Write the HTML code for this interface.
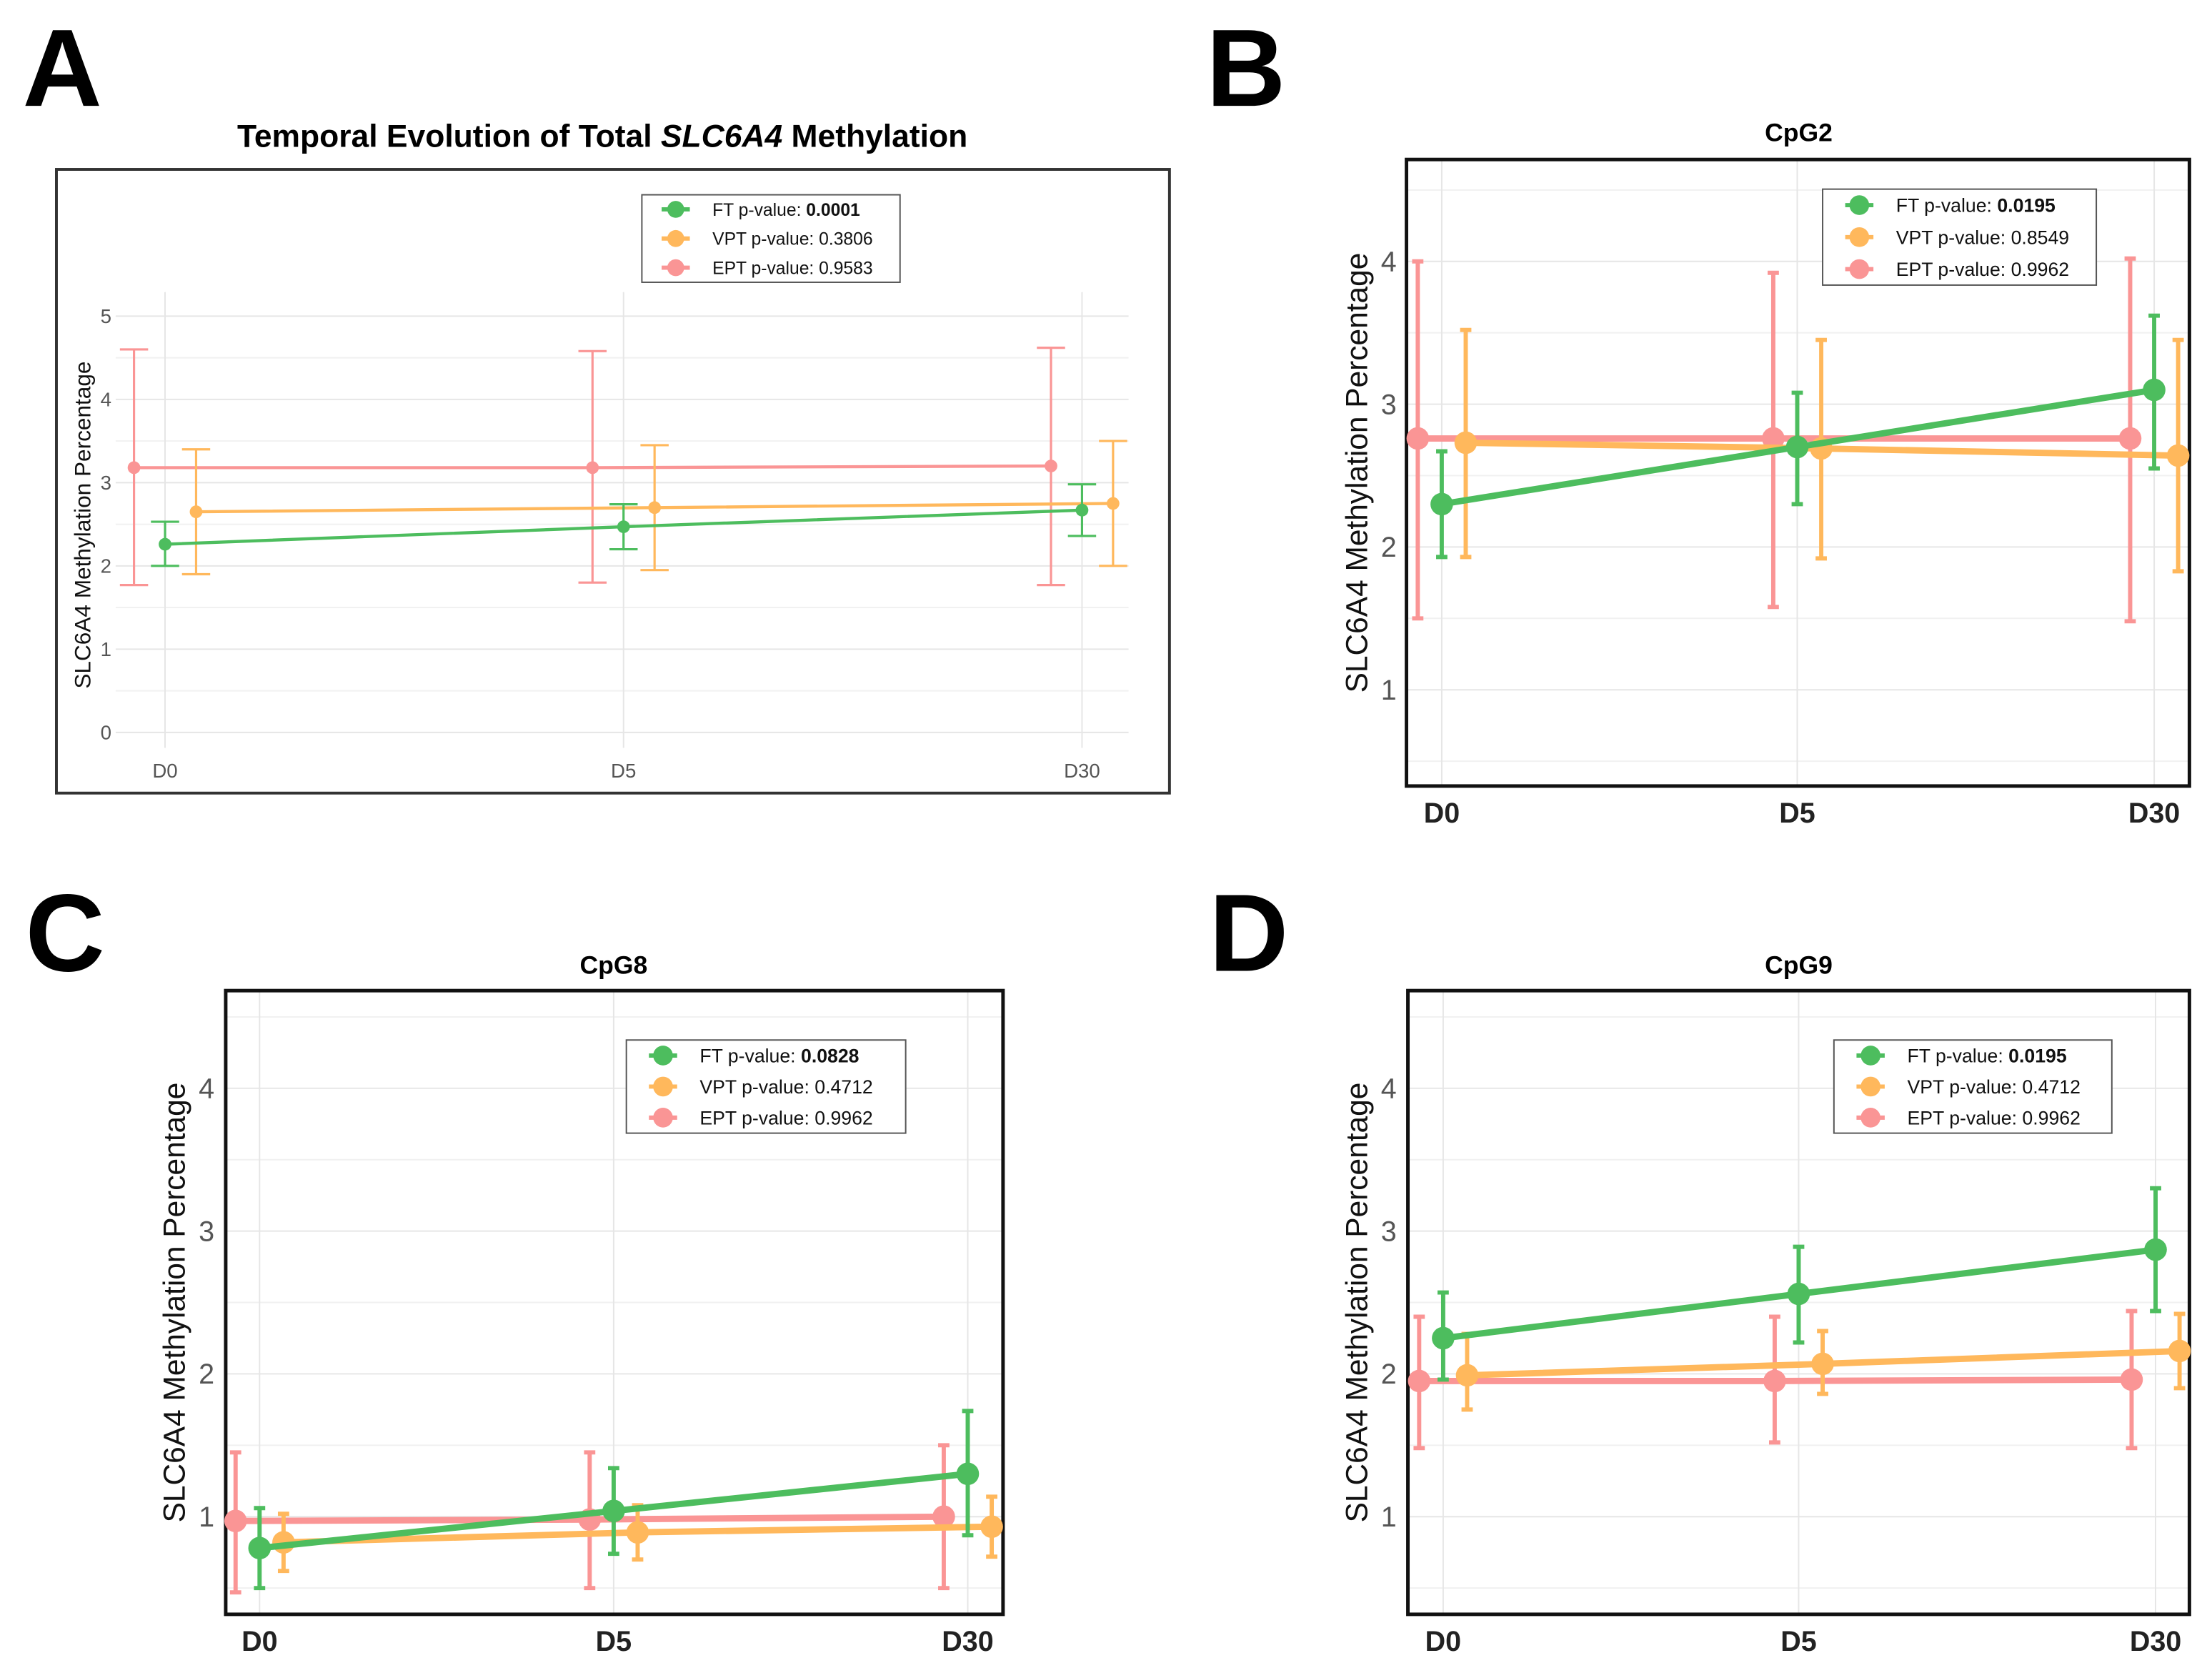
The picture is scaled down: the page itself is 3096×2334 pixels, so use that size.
<!DOCTYPE html>
<html><head><meta charset="utf-8"><style>
html,body{margin:0;padding:0;background:#fff;}
svg{display:block;font-family:"Liberation Sans",Arial,sans-serif;}
</style></head><body>
<svg id="fig" width="3096" height="2334" viewBox="0 0 1568 1182" xmlns="http://www.w3.org/2000/svg">
<rect width="1568" height="1182" fill="#fff"/>
<text x="16" y="75" font-size="78" font-weight="bold">A</text>
<text x="855" y="75" font-size="78" font-weight="bold">B</text>
<text x="18" y="688" font-size="78" font-weight="bold">C</text>
<text x="857" y="688" font-size="78" font-weight="bold">D</text>
</svg>
<script>
const categories = ["D0","D5","D30"];
const seriesNames = ["FT","VPT","EPT"];
// Panel A (total)
const aFT = [2.26,2.47,2.67], aFTlo=[2.0,2.2,2.36], aFThi=[2.53,2.74,2.98];
const aVPT = [2.65,2.70,2.75], aVPTlo=[1.9,1.95,2.0], aVPThi=[3.4,3.45,3.5];
const aEPT = [3.18,3.18,3.20], aEPTlo=[1.77,1.80,1.77], aEPThi=[4.6,4.58,4.62];
const aP = ["0.0001","0.3806","0.9583"];
// Panel B (CpG2)
const bFT = [2.30,2.70,3.10], bFTlo=[1.93,2.30,2.55], bFThi=[2.67,3.08,3.62];
const bVPT = [2.73,2.69,2.64], bVPTlo=[1.93,1.92,1.83], bVPThi=[3.52,3.45,3.45];
const bEPT = [2.76,2.76,2.76], bEPTlo=[1.50,1.58,1.48], bEPThi=[4.00,3.92,4.02];
const bP = ["0.0195","0.8549","0.9962"];
// Panel C (CpG8)
const cFT = [0.78,1.04,1.30], cFTlo=[0.50,0.74,0.87], cFThi=[1.06,1.34,1.74];
const cVPT = [0.82,0.89,0.93], cVPTlo=[0.62,0.70,0.72], cVPThi=[1.02,1.08,1.14];
const cEPT = [0.97,0.98,1.00], cEPTlo=[0.47,0.50,0.50], cEPThi=[1.45,1.45,1.50];
const cP = ["0.0828","0.4712","0.9962"];
// Panel D (CpG9)
const dFT = [2.25,2.56,2.87], dFTlo=[1.96,2.22,2.44], dFThi=[2.57,2.89,3.30];
const dVPT = [1.99,2.07,2.16], dVPTlo=[1.75,1.86,1.90], dVPThi=[2.28,2.30,2.42];
const dEPT = [1.95,1.95,1.96], dEPTlo=[1.48,1.52,1.48], dEPThi=[2.40,2.40,2.44];
const dP = ["0.0195","0.4712","0.9962"];
const aTicks=[0,1,2,3,4,5], bTicks=[1,2,3,4];

const NS="http://www.w3.org/2000/svg";
const svg=document.getElementById('fig');
const colors={FT:"#4dbd5e",VPT:"#ffb85c",EPT:"#fa9595"};
function mk(tag,attrs,parent){const e=document.createElementNS(NS,tag);for(const k in attrs)e.setAttribute(k,attrs[k]);(parent||svg).appendChild(e);return e;}

function panel(cfg){
  const g=mk('g',{});
  
  
  const y=v=>cfg.y0-cfg.py*v;
  const x=i=>cfg.xs[i];
  for(let v=cfg.gmin;v<=cfg.gmax+1e-9;v+=0.5){
    const l=mk('line',{x1:cfg.gx1,x2:cfg.gx2,y1:y(v),y2:y(v),stroke:Math.abs(v-Math.round(v))<1e-9?"#e6e6e6":"#f1f1f1","stroke-width":1},g);
    
    
  }
  categories.forEach((c,i)=>{
    const l=mk('line',{x1:x(i),x2:x(i),y1:cfg.gy1,y2:cfg.gy2,stroke:"#e6e6e6","stroke-width":1},g);
    
    
    const t=mk('text',{x:x(i),y:cfg.xly,"text-anchor":"middle","font-size":cfg.fs,"font-weight":cfg.bold?"bold":"normal",fill:cfg.bold?"#222":"#555"},g);
    t.textContent=c;
    
    
  });
  cfg.ticks.forEach(v=>{
    const t=mk('text',{x:cfg.tlx,y:y(v)+cfg.fs*0.35,"text-anchor":"end","font-size":cfg.fs,fill:"#555"},g);
    t.textContent=v;
    
    
  });
  const b=mk('rect',{x:cfg.box[0],y:cfg.box[1],width:cfg.box[2]-cfg.box[0],height:cfg.box[3]-cfg.box[1],fill:"none",stroke:cfg.boxc,"stroke-width":cfg.boxw},g);
  
  
  const tt=mk('text',{x:cfg.tx,y:cfg.ty,"text-anchor":"middle","font-size":cfg.tfs,"font-weight":"bold"},g);
  if(cfg.id==='a'){tt.innerHTML='Temporal Evolution of Total <tspan font-style="italic">SLC6A4</tspan> Methylation';}else tt.textContent=cfg.title;
  
  
  const yl=mk('text',{x:0,y:0,transform:`translate(${cfg.ylx},${cfg.yly}) rotate(-90)`,"text-anchor":"middle","font-size":cfg.ylfs,fill:"#111"},g);
  yl.textContent='SLC6A4 Methylation Percentage';
  
  
  const offs={EPT:-cfg.dodge,FT:0,VPT:cfg.dodge};
  const order=["EPT","VPT","FT"];
  order.forEach(s=>{
    const d=cfg.data[s];const col=colors[s];
    const sg=mk('g',{},g);
    
    
    const pts=d.m.map((v,i)=>(x(i)+offs[s])+','+y(v)).join(' ');
    const pl=mk('polyline',{points:pts,fill:"none",stroke:col,"stroke-width":cfg.lw},sg);
    
    
    d.m.forEach((v,i)=>{
      const cx=x(i)+offs[s];
      const eb=mk('path',{d:`M${cx-cfg.cap},${y(d.hi[i])}H${cx+cfg.cap}M${cx},${y(d.hi[i])}V${y(d.lo[i])}M${cx-cfg.cap},${y(d.lo[i])}H${cx+cfg.cap}`,stroke:col,"stroke-width":cfg.ew,fill:"none"},sg);
      
      
      const c=mk('circle',{cx:cx,cy:y(v),r:cfg.r,fill:col},sg);
      
      
    });
  });
  const L=cfg.leg;
  const lg=mk('g',{},g);
  
  
  const lr=mk('rect',{x:L[0],y:L[1],width:L[2]-L[0],height:L[3]-L[1],fill:"#fff",stroke:"#555","stroke-width":1},lg);
  
  
  const rh=(L[3]-L[1])/3;
  seriesNames.forEach((s,k)=>{
    const cy=L[1]+rh*(k+0.5);
    const sx=L[0]+cfg.lsx;
    const ln=mk('line',{x1:sx-10,x2:sx+10,y1:cy,y2:cy,stroke:colors[s],"stroke-width":3},lg);
    
    
    const c=mk('circle',{cx:sx,cy:cy,r:cfg.lr,fill:colors[s]},lg);
    
    
    const t=mk('text',{x:L[0]+cfg.ltx,y:cy+cfg.lfs*0.36,"font-size":cfg.lfs,fill:"#111"},lg);
    t.innerHTML=s+' p-value: '+(k===0?'<tspan font-weight="bold">'+cfg.p[k]+'</tspan>':cfg.p[k]);
    
    
  });
}
const big={py:101.2,ticks:bTicks,gmin:0.5,gmax:4.5,fs:20,bold:true,tfs:18,ylfs:21.5,dodge:17,lw:4.5,ew:3,cap:4,r:8,boxc:"#111",boxw:2.5,lsx:26,ltx:52,lfs:13.5,lr:7};
panel({id:'a',y0:519,py:59,ticks:aTicks,gmin:0,gmax:5,xs:[117,442,767],gx1:82,gx2:800,gy1:207,gy2:530,xly:551,tlx:79,fs:14,bold:false,box:[40,120,829,562],boxc:"#333",boxw:2,tx:427,ty:104,tfs:22.5,title:'',ylx:64,yly:372,ylfs:16,dodge:22,lw:2.2,ew:1.6,cap:10,r:4.5,
  data:{FT:{m:aFT,lo:aFTlo,hi:aFThi},VPT:{m:aVPT,lo:aVPTlo,hi:aVPThi},EPT:{m:aEPT,lo:aEPTlo,hi:aEPThi}},p:aP,leg:[455,138,638,200],lsx:24,ltx:50,lfs:12.5,lr:6});
panel(Object.assign({},big,{id:'b',y0:590,xs:[1022,1274,1527],gx1:997,gx2:1552,gy1:113,gy2:557,xly:583,tlx:990,box:[997,113,1552,557],tx:1275,ty:100,title:'CpG2',ylx:969,yly:335,
  data:{FT:{m:bFT,lo:bFTlo,hi:bFThi},VPT:{m:bVPT,lo:bVPTlo,hi:bVPThi},EPT:{m:bEPT,lo:bEPTlo,hi:bEPThi}},p:bP,leg:[1292,134,1486,202]}));
panel(Object.assign({},big,{id:'c',y0:1176,xs:[184,435,686],gx1:160,gx2:711,gy1:702,gy2:1144,xly:1170,tlx:152,box:[160,702,711,1144],tx:435,ty:690,title:'CpG8',ylx:131,yly:923,
  data:{FT:{m:cFT,lo:cFTlo,hi:cFThi},VPT:{m:cVPT,lo:cVPTlo,hi:cVPThi},EPT:{m:cEPT,lo:cEPTlo,hi:cEPThi}},p:cP,leg:[444,737,642,803]}));
panel(Object.assign({},big,{id:'d',y0:1176,xs:[1023,1275,1528],gx1:998,gx2:1552,gy1:702,gy2:1144,xly:1170,tlx:990,box:[998,702,1552,1144],tx:1275,ty:690,title:'CpG9',ylx:969,yly:923,
  data:{FT:{m:dFT,lo:dFTlo,hi:dFThi},VPT:{m:dVPT,lo:dVPTlo,hi:dVPThi},EPT:{m:dEPT,lo:dEPTlo,hi:dEPThi}},p:dP,leg:[1300,737,1497,803]}));
</script>
</body></html>
